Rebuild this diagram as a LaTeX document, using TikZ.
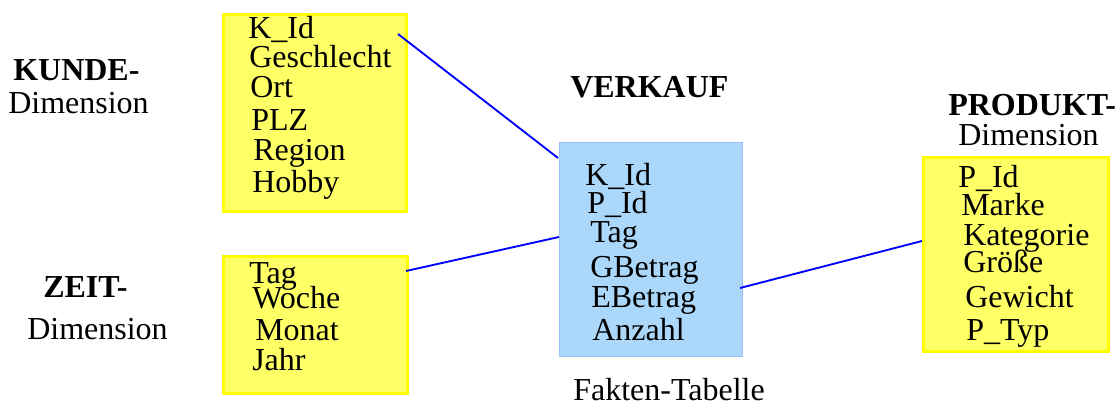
\documentclass[tikz,border=0pt]{standalone}
\usepackage{fontspec}
\setmainfont{Liberation Serif}
\definecolor{boxyellow}{HTML}{FFFF66}
\definecolor{edgeyellow}{HTML}{FFFF00}
\definecolor{factblue}{HTML}{ABD8FA}
\definecolor{linkblue}{HTML}{0000FF}
\tikzset{
  dimbox/.style={draw=edgeyellow, fill=boxyellow, line width=2.2pt, rectangle, inner sep=0pt, anchor=north west},
  factbox/.style={draw=factblue!90!blue, fill=factblue, line width=0.5pt, rectangle, inner sep=0pt, anchor=north west},
  attr/.style={anchor=base west, inner sep=0pt, font=\fontsize{24}{28}\selectfont},
  lbl/.style={anchor=base west, inner sep=0pt, font=\fontsize{24}{28}\selectfont},
  blbl/.style={anchor=base west, inner sep=0pt, font=\fontsize{24}{28}\selectfont\bfseries},
  link/.style={draw=linkblue, line width=1.4pt}
}
\begin{document}
\begin{tikzpicture}[x=0.75pt,y=-0.75pt]
\useasboundingbox (0,0) rectangle (1119,403);
% boxes
\node[dimbox, minimum width=183*0.75pt, minimum height=197*0.75pt] (kunde) at (222,13) {};
\node[dimbox, minimum width=184*0.75pt, minimum height=137*0.75pt] (zeit) at (222,255) {};
\node[factbox, minimum width=183*0.75pt, minimum height=214*0.75pt] (verkauf) at (559,142) {};
\node[dimbox, minimum width=185*0.75pt, minimum height=194*0.75pt] (produkt) at (922,156) {};
% connectors
\coordinate (k1) at (398,34);
\coordinate (v1) at (558,158);
\coordinate (z1) at (406,271);
\coordinate (v2) at (559,237);
\coordinate (v3) at (740,288);
\coordinate (p1) at (922,241);
\draw[link] (k1) -- (v1);
\draw[link] (z1) -- (v2);
\draw[link] (v3) -- (p1);
% labels
\node[blbl] (kl1) at (13,80) {KUNDE-};
\node[lbl] (kl2) at (8,113) {Dimension};
\node[blbl] (zl1) at (43,297) {ZEIT-};
\node[lbl] (zl2) at (27,339) {Dimension};
\node[blbl] (vl1) at (570,98) {VERKAUF};
\node[lbl] (vl2) at (573,400) {Fakten-Tabelle};
\node[blbl] (pl1) at (948,115) {PRODUKT-};
\node[lbl] (pl2) at (958,145) {Dimension};
% Kunde attributes
\node[attr] (ka1) at (248,39) {K\_Id};
\node[attr] (ka2) at (249,67) {Geschlecht};
\node[attr] (ka3) at (250,97) {Ort};
\node[attr] (ka4) at (251,130) {PLZ};
\node[attr] (ka5) at (253,160) {Region};
\node[attr] (ka6) at (252,192) {Hobby};
% Zeit attributes
\node[attr] (za1) at (249,283) {Tag};
\node[attr] (za2) at (252,308) {Woche};
\node[attr] (za3) at (255,340) {Monat};
\node[attr] (za4) at (252,370) {Jahr};
% Verkauf attributes
\node[attr] (va1) at (585,185) {K\_Id};
\node[attr] (va2) at (587,213) {P\_Id};
\node[attr] (va3) at (590,242) {Tag};
\node[attr] (va4) at (590,277) {GBetrag};
\node[attr] (va5) at (591,307) {EBetrag};
\node[attr] (va6) at (592,340) {Anzahl};
% Produkt attributes
\node[attr] (pa1) at (958,187) {P\_Id};
\node[attr] (pa2) at (961,215) {Marke};
\node[attr] (pa3) at (963,245) {Kategorie};
\node[attr] (pa4) at (963,272) {Größe};
\node[attr] (pa5) at (965,307) {Gewicht};
\node[attr] (pa6) at (966,340) {P\_Typ};
\end{tikzpicture}
\end{document}
